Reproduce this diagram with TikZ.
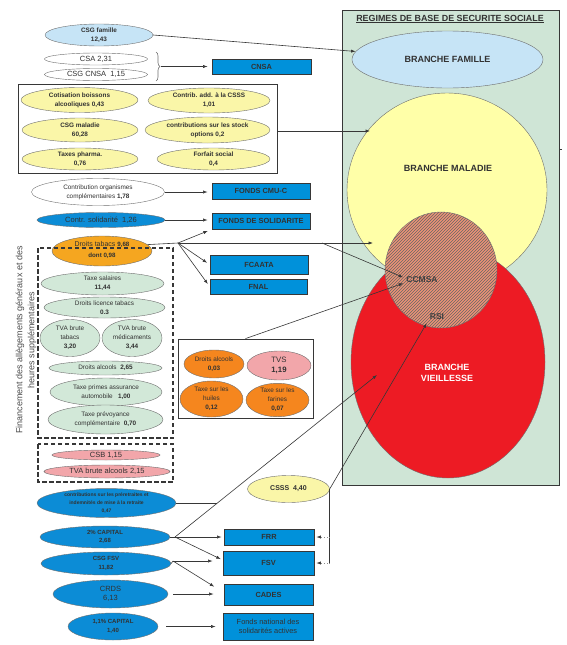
\documentclass[tikz,border=0pt]{standalone}
\usepackage{fontspec}
\setmainfont{Liberation Sans}
\usetikzlibrary{shapes.geometric,arrows.meta,decorations.pathreplacing,patterns}

\definecolor{fundBlue}{RGB}{0,145,218}
\definecolor{ellBlue}{RGB}{12,140,214}
\definecolor{paleBlue}{RGB}{198,228,246}
\definecolor{paleYellow}{RGB}{250,246,168}
\definecolor{paleGreen}{RGB}{210,232,216}
\definecolor{tabacOrange}{RGB}{245,166,32}
\definecolor{deepOrange}{RGB}{245,134,30}
\definecolor{rosePink}{RGB}{242,166,170}
\definecolor{panelGreen}{RGB}{207,229,214}
\definecolor{branchYellow}{RGB}{255,255,168}
\definecolor{branchRed}{RGB}{237,27,36}
\definecolor{hatchSalmon}{RGB}{236,146,118}
\definecolor{textDark}{RGB}{50,50,50}
\definecolor{lineGray}{RGB}{55,55,55}
\definecolor{edgeGray}{RGB}{110,110,110}

\newcommand{\ftEll}{\fontsize{6.4}{9}\selectfont}
\newcommand{\ftTiny}{\fontsize{5}{8}\selectfont}
\newcommand{\ftMid}{\fontsize{7.5}{9}\selectfont}
\newcommand{\ftCap}{\fontsize{6}{8.5}\selectfont\bfseries}
\newcommand{\ftBox}{\fontsize{7.4}{9.5}\selectfont\bfseries}
\newcommand{\ftBranch}{\fontsize{9}{11}\selectfont\bfseries}

\tikzset{
  sz/.style 2 args={minimum width=#1pt, minimum height=#2pt},
  src/.style={ellipse, draw=edgeGray, line width=0.4pt, inner sep=0pt, align=center, text=textDark},
  fund/.style={rectangle, draw=lineGray, line width=0.8pt, fill=fundBlue, inner sep=0pt, align=center, text=textDark, font=\ftBox},
  link/.style={draw=lineGray, line width=0.6pt},
  feed/.style={link, -{Latex[length=4.5pt,width=3.2pt]}},
  dotfeed/.style={draw=black!45, line width=0.6pt, dotted, -{Latex[length=4.5pt,width=3.2pt,black!80]}},
  dashgrp/.style={draw=lineGray, line width=1.3pt, dash pattern=on 4.5pt off 2.5pt},
}

\begin{document}
\begin{tikzpicture}[x=1pt, y=-1pt]
\useasboundingbox (0,0) rectangle (567,645);

% Regimes de base (right panel)
\node[draw=lineGray, line width=0.8pt, fill=panelGreen, sz={217}{475}, inner sep=0pt] (panel) at (450.5,247.5) {};
\node[font=\fontsize{8.9}{10}\selectfont\bfseries, text=textDark] (paneltitle) at (450,19) {\underline{REGIMES DE BASE DE SECURITE SOCIALE}};
\draw[link] (panel.east |- 0,149) -- ++(3,0);
\node[src, fill=paleBlue, sz={191}{57}, font=\ftBranch] (famille) at (447.5,59.5) {BRANCHE FAMILLE};
\node[src, fill=branchYellow, sz={200}{194}] (maladie) at (447,190) {};
\node[font=\ftBranch, text=textDark] (maltxt) at (448,168) {BRANCHE MALADIE};
\node[src, fill=branchRed, sz={194}{232}] (vieill) at (448,362) {};
\node[font=\ftBranch, text=white, align=center] (vieiltxt) at (447,372.5) {BRANCHE\\VIEILLESSE};
\node[src, fill=hatchSalmon, sz={112}{116}, postaction={pattern=north east lines, pattern color=black!60}] (mutual) at (441,270) {};
\node[font=\fontsize{8.5}{10}\selectfont\bfseries, text=black!75, inner sep=3pt] (ccmsa) at (422,280) {CCMSA};
\node[font=\fontsize{8.5}{10}\selectfont\bfseries, text=black!75, inner sep=3pt] (rsi) at (437,317) {RSI};

% Famille and CNSA
\node[src, fill=paleBlue, sz={108}{22}, font=\ftEll\bfseries] (csgfam) at (99,35) {CSG famille\\12,43};
\node[src, fill=white, sz={103}{12}, font=\ftMid] (csa) at (96,59) {CSA 2,31};
\node[src, fill=white, sz={103}{12}, font=\ftMid] (csgcnsa) at (96,74.5) {CSG CNSA\ \ 1,15};
\draw[draw=edgeGray, line width=0.6pt, decorate, decoration={brace, amplitude=4pt}] (156,52) -- (156,81);
\coordinate (bracetip) at (161,66.5);
\node[fund, sz={99}{15}] (cnsa) at (261.5,66.5) {CNSA};

% Maladie group
\node[draw=lineGray, line width=0.8pt, sz={259}{89}, inner sep=0pt] (maladiegrp) at (147.5,128.5) {};
\begin{scope}[every node/.append style={src, fill=paleYellow, font=\ftEll\bfseries}]
  \node[sz={117}{25}] (cotis) at (79.5,100) {Cotisation boissons\\alcooliques 0,43};
  \node[sz={122}{25}] (csaddi) at (209,100.5) {Contrib. add. à la CSSS\\1,01};
  \node[sz={116}{24}] (csgmal) at (80,130) {CSG maladie\\60,28};
  \node[sz={125}{26}] (stockopt) at (207.5,130) {contributions sur les stock\\options 0,2};
  \node[sz={116}{22}] (pharma) at (80,159) {Taxes pharma.\\0,76};
  \node[sz={113}{22}] (forfait) at (213.5,159) {Forfait social\\0,4};
\end{scope}

% Fonds
\node[src, fill=white, sz={133}{27}, font=\ftEll] (orgcompl) at (98,192) {Contribution organismes\\complémentaires \textbf{1,78}};
\node[src, fill=ellBlue, sz={128}{15}, font=\ftMid] (solid) at (101,220) {Contr. solidarité\ \ 1,26};
\node[src, fill=tabacOrange, sz={100}{30}, font=\fontsize{7}{10.5}\selectfont] (tabacs) at (102,251) {Droits tabacs \textbf{\fontsize{6.2}{10.5}\selectfont 9,68}\\\textbf{\fontsize{6.2}{10.5}\selectfont dont 0,98}\\[-7pt]\mbox{}};
\node[fund, sz={98}{16}] (cmuc) at (261,191) {FONDS CMU-C};
\node[fund, sz={98}{16}] (fsol) at (261,221) {FONDS DE SOLIDARITE};
\node[fund, sz={98}{19}] (fcaata) at (259,264.5) {FCAATA};
\node[fund, sz={97}{15}] (fnal) at (258.5,286.5) {FNAL};

% Allegements generaux
\begin{scope}[every node/.append style={src, fill=paleGreen, font=\ftEll}]
  \node[sz={123}{23}] (salaires) at (102.5,283.5) {Taxe salaires\\\textbf{11,44}};
  \node[sz={121}{21}] (licence) at (104.5,307.5) {Droits licence tabacs\\\textbf{0.3}};
  \node[sz={60}{37}] (tvatab) at (70,338) {TVA brute\\tabacs\\\textbf{3,20}};
  \node[sz={60}{37}] (tvamed) at (132,338) {TVA brute\\médicaments\\\textbf{3,44}};
  \node[sz={113}{14}] (dalc) at (105.5,368) {Droits alcools\ \ \textbf{2,65}};
  \node[sz={112}{28}] (primes) at (106,392) {Taxe primes assurance\\automobile\ \ \ \textbf{1,00}};
  \node[sz={115}{29}] (prevoy) at (105.5,419.5) {Taxe prévoyance\\complémentaire\ \ \textbf{0,70}};
\end{scope}
\node[src, fill=rosePink, sz={108}{10}, font=\ftMid] (csb) at (106,455) {CSB 1,15};
\node[src, fill=rosePink, sz={126}{13}, font=\ftMid] (tvaalc) at (107,471.5) {TVA brute alcools 2,15};
\draw[dashgrp] (38,248) rectangle (173,438);
\draw[dashgrp] (38,444) rectangle (173,482);
\node[rotate=90, align=center, font=\fontsize{9}{12}\selectfont, text=black!70] (finance) at (26,340) {Financement des allègements généraux et des\\heures supplémentaires};

% Petites taxes
\node[draw=lineGray, line width=0.8pt, sz={135}{79}, inner sep=0pt] (orgbox) at (245.5,378.5) {};
\node[src, fill=deepOrange, sz={60}{28}, font=\ftEll] (dalc2) at (214,364) {Droits alcools\\\textbf{0,03}};
\node[src, fill=rosePink, sz={64}{29}, font=\fontsize{7.8}{9.5}\selectfont] (tvs) at (279,365.5) {TVS\\\textbf{1,19}};
\node[src, fill=deepOrange, sz={63}{36}, font=\ftEll] (huiles) at (211.5,399) {Taxe sur les\\huiles\\\textbf{0,12}};
\node[src, fill=deepOrange, sz={63}{32}, font=\ftEll] (farines) at (277.5,400) {Taxe sur les\\farines\\\textbf{0,07}};
\node[src, fill=paleYellow, sz={82}{27}, font=\fontsize{7}{9}\selectfont\bfseries] (csss) at (288.5,489) {CSSS\ \ 4,40};

% Vieillesse, FSV, CADES
\node[src, fill=ellBlue, sz={139}{28}, font=\ftTiny\bfseries] (preret) at (106.5,503) {contributions sur les préretraites et\\indemnités de mise à la retraite\\0,47};
\node[src, fill=ellBlue, sz={130}{22}, font=\ftCap] (cap2) at (105,537) {2\% CAPITAL\\2,68};
\node[src, fill=ellBlue, sz={130}{23}, font=\ftCap] (csgfsv) at (106,563.5) {CSG FSV\\11,82};
\node[src, fill=ellBlue, sz={115}{28}, font=\ftMid] (crds) at (110.5,594) {CRDS\\6,13};
\node[src, fill=ellBlue, sz={90}{27}, font=\ftCap] (cap11) at (113,626.5) {1,1\% CAPITAL\\1,40};
\node[fund, sz={90}{16}] (frr) at (269,537) {FRR};
\node[fund, sz={91}{24}] (fsv) at (268.5,563) {FSV};
\node[fund, sz={89}{21}] (cades) at (268.5,594.5) {CADES};
\node[fund, sz={90}{27}, font=\fontsize{7.4}{9.5}\selectfont] (fnsa) at (268,626.5) {Fonds national des\\solidarités actives};

% Flows
\coordinate (malin1) at (370,131);
\coordinate (tabj) at (178,243);
\coordinate (tabsplit) at (322,243);
\coordinate (malin2) at (373,243);
\coordinate (prejoin) at (217,503);
\coordinate (capj) at (175,537);
\coordinate (vieilin) at (377,375);
\coordinate (fsvj) at (173,561);
\draw[feed] (csgfam.east) -- (famille.175);
\draw[feed, shorten >=4pt] (bracetip) -- (cnsa.west);
\draw[feed] (maladiegrp.east |- malin1) -- (malin1);
\draw[feed, shorten >=4pt] (orgcompl.east) -- (orgcompl.east -| cmuc.west);
\draw[feed, shorten >=4pt] (solid.east) -- (solid.east -| fsol.west);
\draw[link] (tabacs.8) -- (tabj);
\draw[feed] (tabj) -- (malin2);
\draw[feed, shorten >=4pt] (tabj) -- (fsol.south west);
\draw[feed, shorten >=3pt] (tabj) -- (fcaata.west);
\draw[feed, shorten >=3pt] (tabj) -- (fnal.west);
\draw[feed] (tabsplit) -- (ccmsa.172);
\draw[feed] (orgbox.north) -- (ccmsa.190);
\draw[feed] (csss.east) -- (rsi.south west);
\draw[link] (csss.east) -- (csss.east |- fsv.east);
\draw[dotfeed, shorten >=2pt] (csss.east |- frr.east) -- (frr.east);
\draw[dotfeed, shorten >=2pt] (csss.east |- fsv.east) -- (fsv.east);
\draw[link] (preret.east) -- (prejoin);
\draw[link] (cap2.east) -- (capj);
\draw[feed] (capj) -- (vieilin);
\draw[feed, shorten >=2pt] (capj) -- (capj -| frr.west);
\draw[feed, shorten >=2pt] (capj) -- ([yshift=3pt]fsv.west);
\draw[link] (csgfsv.east) -- (fsvj);
\draw[feed, shorten >=10pt] (fsvj) -- (fsvj -| fsv.west);
\draw[feed, shorten >=11pt] (fsvj) -- ([yshift=2pt]cades.west);
\draw[feed, shorten <=5pt, shorten >=10pt] (crds.east) -- (crds.east -| cades.west);
\draw[feed, shorten <=8pt, shorten >=7pt] (cap11.east) -- (cap11.east -| fnsa.west);
\end{tikzpicture}
\end{document}
